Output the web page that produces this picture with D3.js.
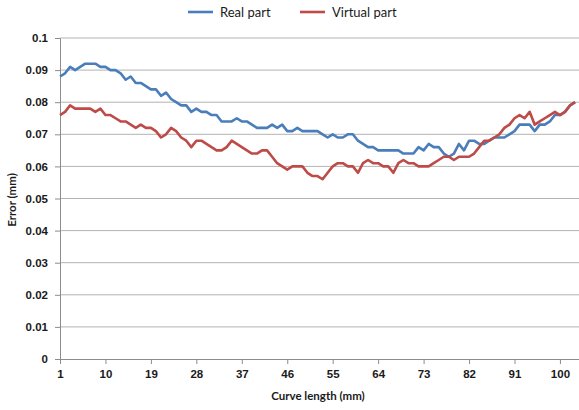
<!DOCTYPE html>
<html>
<head>
<meta charset="utf-8">
<script src="https://cdn.jsdelivr.net/npm/d3@7"></script>
<style>
  html, body { margin: 0; padding: 0; background: #fff; }
  svg { display: block; font-family: Lato, "Open Sans", sans-serif; }
</style>
</head>
<body>
<svg id="chart" width="579" height="410"></svg>
<script>
// Error along the curve, one reading per millimetre
const realPart = [
  0.088, 0.089, 0.091, 0.090, 0.091, 0.092, 0.092, 0.092, 0.091, 0.091,
  0.090, 0.090, 0.089, 0.087, 0.088, 0.086, 0.086, 0.085, 0.084, 0.084,
  0.082, 0.083, 0.081, 0.080, 0.079, 0.079, 0.077, 0.078, 0.077, 0.077,
  0.076, 0.076, 0.074, 0.074, 0.074, 0.075, 0.074, 0.074, 0.073, 0.072,
  0.072, 0.072, 0.073, 0.072, 0.073, 0.071, 0.071, 0.072, 0.071, 0.071,
  0.071, 0.071, 0.070, 0.069, 0.070, 0.069, 0.069, 0.070, 0.070, 0.068,
  0.067, 0.066, 0.066, 0.065, 0.065, 0.065, 0.065, 0.065, 0.064, 0.064,
  0.064, 0.066, 0.065, 0.067, 0.066, 0.066, 0.064, 0.063, 0.064, 0.067,
  0.065, 0.068, 0.068, 0.067, 0.067, 0.068, 0.069, 0.069, 0.069, 0.070,
  0.071, 0.073, 0.073, 0.073, 0.071, 0.073, 0.073, 0.074, 0.076, 0.076,
  0.077, 0.079, 0.080
];
const virtualPart = [
  0.076, 0.077, 0.079, 0.078, 0.078, 0.078, 0.078, 0.077, 0.078, 0.076,
  0.076, 0.075, 0.074, 0.074, 0.073, 0.072, 0.073, 0.072, 0.072, 0.071,
  0.069, 0.070, 0.072, 0.071, 0.069, 0.068, 0.066, 0.068, 0.068, 0.067,
  0.066, 0.065, 0.065, 0.066, 0.068, 0.067, 0.066, 0.065, 0.064, 0.064,
  0.065, 0.065, 0.063, 0.061, 0.060, 0.059, 0.060, 0.060, 0.060, 0.058,
  0.057, 0.057, 0.056, 0.058, 0.060, 0.061, 0.061, 0.060, 0.060, 0.058,
  0.061, 0.062, 0.061, 0.061, 0.060, 0.060, 0.058, 0.061, 0.062, 0.061,
  0.061, 0.060, 0.060, 0.060, 0.061, 0.062, 0.063, 0.063, 0.062, 0.063,
  0.063, 0.063, 0.064, 0.066, 0.068, 0.068, 0.069, 0.070, 0.072, 0.073,
  0.075, 0.076, 0.075, 0.077, 0.073, 0.074, 0.075, 0.076, 0.077, 0.076,
  0.077, 0.079, 0.080
];
const curveLength = d3.range(1, realPart.length + 1);
const xTickLabels = [1, 10, 19, 28, 37, 46, 55, 64, 73, 82, 91, 100];
const yTicks = [0, 0.01, 0.02, 0.03, 0.04, 0.05, 0.06, 0.07, 0.08, 0.09, 0.1];
const seriesNames = ["Real part", "Virtual part"];
const seriesColors = ["#4a7ebb", "#be4b48"];

const svg = d3.select("#chart");
const plot = { left: 60, top: 38, bottom: 359 };
const step = 5.05;
plot.right = plot.left + step * (curveLength.length - 1);

const x = d3.scalePoint().domain(curveLength).range([plot.left, plot.right]);
const y = d3.scaleLinear().domain([0, 0.1]).range([plot.bottom, plot.top]);

// horizontal gridlines
svg.append("g")
  .selectAll("line")
  .data(yTicks.filter(d => d > 0))
  .join("line")
  .attr("x1", plot.left).attr("x2", 579)
  .attr("y1", d => y(d)).attr("y2", d => y(d))
  .attr("stroke", "#b3b3b3").attr("stroke-width", 1);

// y axis
const yAxis = svg.append("g")
  .attr("transform", `translate(${plot.left},0)`)
  .call(d3.axisLeft(y).tickValues(yTicks).tickSize(5).tickPadding(7)
    .tickFormat(d => d3.format("~g")(+d.toFixed(2))));
yAxis.select(".domain").attr("stroke", "#8c8c8c");
yAxis.selectAll(".tick line").attr("stroke", "#8c8c8c");
yAxis.selectAll(".tick text")
  .attr("fill", "#1a1a1a").style("font-size", "11.5px").style("font-weight", "bold");

// x axis
const xAxis = svg.append("g")
  .attr("transform", `translate(0,${plot.bottom})`)
  .call(d3.axisBottom(x).tickValues(xTickLabels).tickSize(5).tickPadding(6));
xAxis.select(".domain").attr("d", `M${plot.left},0.5H579`).attr("stroke", "#8c8c8c");
xAxis.selectAll(".tick line").attr("stroke", "#8c8c8c");
xAxis.selectAll(".tick text")
  .attr("fill", "#1a1a1a").style("font-size", "11.5px").style("font-weight", "bold");

// axis titles
svg.append("text")
  .attr("x", 318).attr("y", 400)
  .attr("text-anchor", "middle")
  .attr("fill", "#1a1a1a")
  .style("font-size", "11.5px").style("font-weight", "bold")
  .text("Curve length (mm)");
svg.append("text")
  .attr("transform", "translate(16,200) rotate(-90)")
  .attr("text-anchor", "middle")
  .attr("fill", "#1a1a1a")
  .style("font-size", "11.5px").style("font-weight", "bold")
  .text("Error (mm)");

// series lines
const line = d3.line()
  .x((d, i) => x(curveLength[i]))
  .y(d => y(d));
[realPart, virtualPart].forEach((values, k) => {
  svg.append("path")
    .datum(values)
    .attr("d", line)
    .attr("fill", "none")
    .attr("stroke", seriesColors[k])
    .attr("stroke-width", 2.6)
    .attr("stroke-linejoin", "round");
});

// legend
const legendPos = [188, 300];
const legend = svg.append("g");
seriesNames.forEach((name, k) => {
  legend.append("line")
    .attr("x1", legendPos[k]).attr("x2", legendPos[k] + 25)
    .attr("y1", 12).attr("y2", 12)
    .attr("stroke", seriesColors[k]).attr("stroke-width", 2.6);
  legend.append("text")
    .attr("x", legendPos[k] + 32).attr("y", 16.5)
    .attr("fill", "#1a1a1a")
    .style("font-size", "13px")
    .text(name);
});
</script>
</body>
</html>
